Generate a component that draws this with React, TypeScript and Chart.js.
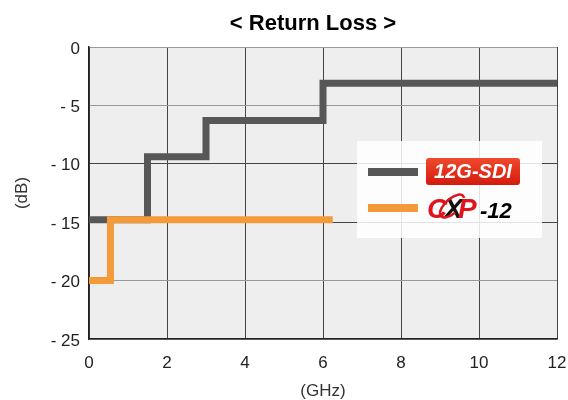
import React, { useEffect, useRef } from "react";
import { Chart, registerables } from "chart.js";

Chart.register(...registerables);

// ---- data ----
const chartTitle = "< Return Loss >";
const xAxisTitle = "(GHz)";
const yAxisTitle = "(dB)";
const sdiLabel = "12G-SDI";
const cxpLabel = ["C", "X", "P", "-12"];

// 12G-SDI step mask (value holds until next frequency)
const sdiFreq = [0, 1.5, 3, 6, 12];
const sdiLoss = [-14.8, -9.4, -6.3, -3.1, -3.1];

// CXP-12 step mask
const cxpFreq = [0, 0.55, 6.25];
const cxpLoss = [-20, -14.8, -14.8];

const xMin = 0, xMax = 12, xStep = 2;
const yMin = -25, yMax = 0, yStep = 5;

const FONT = "'Liberation Sans', Arial, sans-serif";

const bgPlugin = {
  id: "plotBg",
  beforeDraw(chart: any) {
    const { ctx, chartArea: a } = chart;
    ctx.save();
    ctx.fillStyle = "#eeeeee";
    ctx.fillRect(a.left, a.top, a.right - a.left, a.bottom - a.top);
    ctx.restore();
  },
};

const decoPlugin = {
  id: "deco",
  afterDraw(chart: any) {
    const { ctx, chartArea: a } = chart;
    ctx.save();
    // title
    ctx.fillStyle = "#000";
    ctx.font = `bold 22px ${FONT}`;
    ctx.textAlign = "center";
    ctx.textBaseline = "middle";
    ctx.fillText(chartTitle, (a.left + a.right) / 2 - 10, 24);

    // legend box
    ctx.fillStyle = "rgba(255,255,255,0.85)";
    ctx.fillRect(357, 141, 185, 97);

    // gray line sample
    ctx.lineCap = "butt";
    ctx.strokeStyle = "#575757";
    ctx.lineWidth = 8;
    ctx.beginPath();
    ctx.moveTo(368, 172);
    ctx.lineTo(418, 172);
    ctx.stroke();

    // red badge
    const bx = 426, by = 158, bw = 94, bh = 27, r = 3;
    const g = ctx.createLinearGradient(0, by, 0, by + bh);
    g.addColorStop(0, "#f04a2c");
    g.addColorStop(1, "#d41a0e");
    ctx.fillStyle = g;
    ctx.beginPath();
    ctx.moveTo(bx + r, by);
    ctx.lineTo(bx + bw - r, by);
    ctx.quadraticCurveTo(bx + bw, by, bx + bw, by + r);
    ctx.lineTo(bx + bw, by + bh - r);
    ctx.quadraticCurveTo(bx + bw, by + bh, bx + bw - r, by + bh);
    ctx.lineTo(bx + r, by + bh);
    ctx.quadraticCurveTo(bx, by + bh, bx, by + bh - r);
    ctx.lineTo(bx, by + r);
    ctx.quadraticCurveTo(bx, by, bx + r, by);
    ctx.fill();
    ctx.fillStyle = "#fff";
    ctx.font = `italic bold 20px ${FONT}`;
    ctx.textAlign = "center";
    ctx.textBaseline = "alphabetic";
    ctx.fillText(sdiLabel, bx + bw / 2, by + 20);

    // orange line sample
    ctx.strokeStyle = "#f39a3a";
    ctx.lineWidth = 8;
    ctx.beginPath();
    ctx.moveTo(368, 208);
    ctx.lineTo(418, 208);
    ctx.stroke();

    // CXP-12 logo text
    ctx.textAlign = "left";
    ctx.font = `italic bold 28px ${FONT}`;
    ctx.fillStyle = "#e0141c";
    ctx.fillText(cxpLabel[0], 427, 218);
    ctx.fillStyle = "#111";
    ctx.fillText(cxpLabel[1], 444, 218);
    ctx.fillStyle = "#e0141c";
    ctx.fillText(cxpLabel[2], 458, 218);
    ctx.fillStyle = "#000";
    ctx.font = `italic bold 22px ${FONT}`;
    ctx.fillText(cxpLabel[3], 480, 218);
    // swoosh
    ctx.strokeStyle = "#e0141c";
    ctx.lineWidth = 2.5;
    ctx.beginPath();
    ctx.ellipse(452, 206, 15, 7, -0.75, Math.PI * 0.55, Math.PI * 2.1);
    ctx.stroke();
    ctx.restore();
  },
};

export default function App() {
  const ref = useRef<HTMLCanvasElement>(null);

  useEffect(() => {
    document.body.style.margin = "0";
    const canvas = ref.current;
    if (!canvas) return;
    const chart = new Chart(canvas, {
      type: "line",
      data: {
        datasets: [
          {
            label: "CXP-12",
            data: cxpFreq.map((x, i) => ({ x, y: cxpLoss[i] })),
            borderColor: "#f39a3a",
            borderWidth: 7,
            stepped: "before",
            pointRadius: 0,
            fill: false,
            borderCapStyle: "butt",
            borderJoinStyle: "miter",
          },
          {
            label: "12G-SDI",
            data: sdiFreq.map((x, i) => ({ x, y: sdiLoss[i] })),
            borderColor: "#575757",
            borderWidth: 7,
            stepped: "before",
            pointRadius: 0,
            fill: false,
            borderCapStyle: "butt",
            borderJoinStyle: "miter",
          },
        ],
      },
      options: {
        animation: false,
        responsive: false,
        layout: { padding: { top: 47, right: 0, left: 0, bottom: 0 } },
        plugins: {
          legend: { display: false },
          title: { display: false },
          tooltip: { enabled: false },
        },
        scales: {
          x: {
            type: "linear",
            min: xMin,
            max: xMax,
            afterFit: (s: any) => {
              s.height = 61;
              s.paddingRight = 11;
              s.paddingLeft = 0;
            },
            ticks: {
              stepSize: xStep,
              padding: 14,
              color: "#222",
              font: { family: FONT, size: 17 },
            },
            grid: {
              color: "#444",
              lineWidth: 1,
              drawTicks: false,
            },
            border: { color: "#222", width: 1.5 },
            title: {
              display: true,
              text: xAxisTitle,
              color: "#333",
              font: { family: FONT, size: 17, lineHeight: 1 },
              padding: { top: 0, bottom: 0 },
            },
          },
          y: {
            min: yMin,
            max: yMax,
            afterFit: (s: any) => {
              s.width = 89;
              s.paddingTop = 0;
              s.paddingBottom = 0;
            },
            ticks: {
              stepSize: yStep,
              padding: 9,
              labelOffset: 2,
              color: "#222",
              font: { family: FONT, size: 17 },
              callback: (v: any) => (v < 0 ? "- " + Math.abs(v) : String(v)),
            },
            grid: {
              color: (c: any) => {
                const v = c.tick && c.tick.value;
                if (v === -10 || v === -15) return "#444";
                return "#999";
              },
              lineWidth: 1,
              drawTicks: false,
            },
            border: { color: "#222", width: 1.5 },
            title: {
              display: true,
              text: yAxisTitle,
              color: "#333",
              font: { family: FONT, size: 17, lineHeight: 1 },
              padding: { top: 14, bottom: 0 },
            },
          },
        },
      },
      plugins: [bgPlugin, decoPlugin],
    } as any);
    return () => chart.destroy();
  }, []);

  return (
    <div style={{ width: 568, height: 400 }}>
      <canvas ref={ref} width={568} height={400} />
    </div>
  );
}
